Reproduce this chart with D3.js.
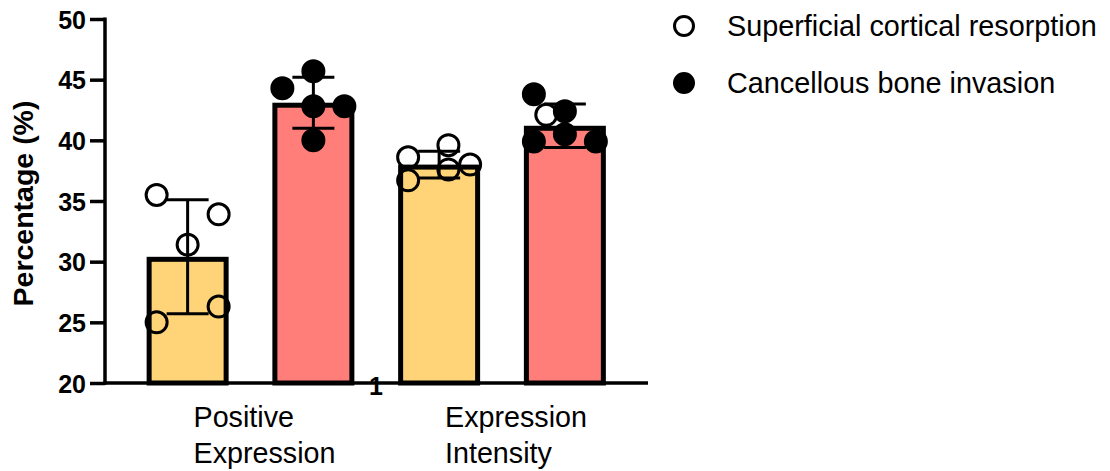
<!DOCTYPE html>
<html>
<head>
<meta charset="utf-8">
<script src="https://cdn.jsdelivr.net/npm/d3@7"></script>
<style>
  html, body { margin: 0; padding: 0; background: #fff; }
  svg { display: block; }
  text { font-family: "Liberation Sans", Arial, sans-serif; }
</style>
</head>
<body>
<svg id="chart" width="1110" height="471"></svg>
<script>
// ---- data ----
const categories = ["Positive Expression", "Expression Intensity"];
const seriesNames = ["Superficial cortical resorption", "Cancellous bone invasion"];
const seriesColors = ["#FFD479", "#FF7E79"];
const yTicks = [20, 25, 30, 35, 40, 45, 50];

// means and SD per category, one array per series
const superficialMean = [30.4, 38.0];
const superficialSD   = [4.7, 1.1];
const cancellousMean  = [43.1, 41.2];
const cancellousSD    = [2.1, 1.8];

// individual points: [category index, value, column(-1..1), filled]
const superficialPoints = [
  [0, 35.5, -1, 0], [0, 31.4, 0, 0], [0, 33.9, 1, 0], [0, 26.3, 1, 0], [0, 25.0, -1, 0],
  [1, 38.6, -1, 0], [1, 39.6, 0.3, 0], [1, 37.6, 0.3, 0], [1, 38.0, 1, 0], [1, 36.7, -1, 0]
];
const cancellousPoints = [
  [0, 44.3, -1, 1], [0, 45.7, 0, 1], [0, 42.8, 0, 1], [0, 42.8, 1, 1], [0, 40.0, 0, 1],
  [1, 43.8, -1, 1], [1, 42.1, -0.6, 0], [1, 42.4, 0, 1], [1, 40.5, 0, 1], [1, 39.9, -1, 1], [1, 39.9, 1, 1]
];

// ---- build ----
const svg = d3.select("#chart");
const y = d3.scaleLinear().domain([20, 50]).range([383, 19]);
const x0 = d3.scaleBand().domain(categories).range([124.75, 627.75]).paddingInner(0).paddingOuter(0);
const x1 = d3.scaleBand().domain(seriesNames).range([0, x0.bandwidth()]).paddingInner(0.348).paddingOuter(0.174);
const jitter = d3.scaleLinear().domain([-1, 1]).range([-31, 31]);
const sw = 5;

const bars = [];
categories.forEach((c, i) => {
  bars.push({cat: c, s: 0, mean: superficialMean[i], sd: superficialSD[i]});
  bars.push({cat: c, s: 1, mean: cancellousMean[i], sd: cancellousSD[i]});
});
const cx = d => x0(d.cat) + x1(seriesNames[d.s]) + x1.bandwidth() / 2;

// bars (stroke drawn inside the bar outline)
svg.append("g").selectAll("rect").data(bars).join("rect")
  .attr("x", d => x0(d.cat) + x1(seriesNames[d.s]) + sw / 2)
  .attr("y", d => y(d.mean) + sw / 2)
  .attr("width", x1.bandwidth() - sw)
  .attr("height", d => y(20) - y(d.mean) - sw / 2)
  .attr("fill", d => seriesColors[d.s])
  .attr("stroke", "#000")
  .attr("stroke-width", sw);

// error bars
const eb = svg.append("g").attr("stroke", "#000").attr("stroke-width", 3).attr("fill", "none");
bars.forEach(d => {
  const c = cx(d);
  const hi = y(d.mean + d.sd), lo = y(d.mean - d.sd);
  eb.append("line").attr("x1", c).attr("x2", c).attr("y1", hi).attr("y2", lo);
  eb.append("line").attr("x1", c - 21).attr("x2", c + 21).attr("y1", hi).attr("y2", hi);
  eb.append("line").attr("x1", c - 21).attr("x2", c + 21).attr("y1", lo).attr("y2", lo);
});

// points
const pts = [];
superficialPoints.forEach(p => pts.push({cat: categories[p[0]], s: 0, v: p[1], col: p[2], filled: p[3]}));
cancellousPoints.forEach(p => pts.push({cat: categories[p[0]], s: 1, v: p[1], col: p[2], filled: p[3]}));
svg.append("g").selectAll("circle").data(pts).join("circle")
  .attr("cx", d => cx(d) + jitter(d.col))
  .attr("cy", d => y(d.v))
  .attr("r", 10.5)
  .attr("fill", d => d.filled ? "#000" : "none")
  .attr("stroke", "#000")
  .attr("stroke-width", 3);

// y axis
const yAxis = svg.append("g").attr("transform", "translate(105,0)")
  .call(d3.axisLeft(y).tickValues(yTicks).tickSize(15).tickPadding(4).tickSizeOuter(0));
yAxis.select(".domain").remove();
yAxis.selectAll(".tick line").attr("stroke", "#000").attr("stroke-width", 3.5);
yAxis.selectAll(".tick text").attr("font-size", 25).attr("font-weight", "bold")
  .attr("fill", "#000").attr("dy", "0.36em")
  .style("font-family", '"Liberation Sans", Arial, sans-serif');

svg.append("line").attr("x1", 105).attr("x2", 105).attr("y1", y(50) - 1.5).attr("y2", y(20) + 1.75)
  .attr("stroke", "#000").attr("stroke-width", 3.5);
svg.append("line").attr("x1", 103.25).attr("x2", 648).attr("y1", y(20)).attr("y2", y(20))
  .attr("stroke", "#000").attr("stroke-width", 3.5);

// stray tick label "1"
svg.append("text").attr("x", 376).attr("y", 395).attr("text-anchor", "middle")
  .attr("font-size", 25).attr("font-weight", "bold").text("1");

// y title
svg.append("text")
  .attr("transform", "translate(33,203.5) rotate(-90)")
  .attr("text-anchor", "middle")
  .attr("font-size", 28.5).attr("font-weight", "bold")
  .text("Percentage (%)");

// x category labels (two lines)
categories.forEach(c => {
  const words = c.split(" ");
  const lx = x0(c) + x0.bandwidth() / 2 - 57;
  const t = svg.append("text").attr("x", lx).attr("y", 427).attr("font-size", 28.7);
  words.forEach((w, i) => {
    t.append("tspan").attr("x", lx).attr("y", 427 + i * 36).text(w);
  });
});

// legend
const lg = svg.append("g");
seriesNames.forEach((s, i) => {
  const ly = 26 + i * 57;
  lg.append("circle").attr("cx", 684).attr("cy", ly).attr("r", 9.5)
    .attr("fill", i === 0 ? "none" : "#000").attr("stroke", "#000").attr("stroke-width", 3);
  lg.append("text").attr("x", 727).attr("y", ly).attr("dy", "0.36em")
    .attr("font-size", 28.8).text(s);
});
</script>
</body>
</html>
